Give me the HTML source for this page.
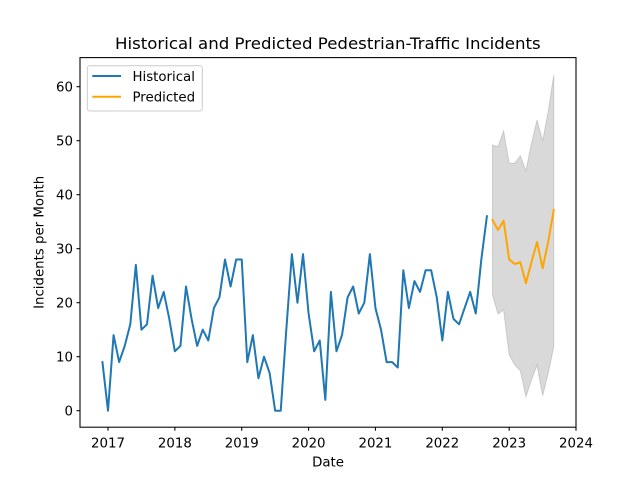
<!DOCTYPE html>
<html>
<head>
<meta charset="utf-8">
<style>
html,body{margin:0;padding:0;background:#fff;}
svg{display:block;}
text{font-family:"DejaVu Sans","Liberation Sans",sans-serif;fill:#000;}
</style>
</head>
<body>
<svg width="640" height="480" viewBox="0 0 640 480" xmlns="http://www.w3.org/2000/svg">
<rect x="0" y="0" width="640" height="480" fill="#fff"/>

<!-- confidence band -->
<polygon points="492.47,145 498.04,146.7 503.61,131 509.18,163.3 514.76,163.3 520.33,155.7 525.90,171 531.47,143.3 537.04,120 542.62,141 548.19,111.7 553.76,75 553.76,346.7 548.19,373.3 542.62,395.7 537.04,365 531.47,380 525.90,396.7 520.33,370.7 514.76,365 509.18,355 503.61,310 498.04,314 492.47,295"
 fill="#d9d9d9" stroke="rgba(128,128,128,0.3)" stroke-width="1"/>

<!-- historical -->
<polyline fill="none" stroke="#1f77b4" stroke-width="2" stroke-linejoin="round" stroke-linecap="square"
points="102.43,362.1 108.00,410.7 113.57,335.1 119.14,362.1 124.72,345.9 130.29,324.3 135.86,264.9 141.43,329.7 147.00,324.3 152.58,275.7 158.15,308.1 163.72,291.9 169.29,318.9 174.86,351.3 180.44,345.9 186.01,286.5 191.58,318.9 197.15,345.9 202.72,329.7 208.30,340.5 213.87,308.1 219.44,297.3 225.01,259.5 230.58,286.5 236.16,259.5 241.73,259.5 247.30,362.1 252.87,335.1 258.44,378.3 264.02,356.7 269.59,372.9 275.16,410.7 280.73,410.7 286.30,329.7 291.88,254.1 297.45,302.7 303.02,254.1 308.59,313.5 314.16,351.3 319.74,340.5 325.31,399.9 330.88,291.9 336.45,351.3 342.02,335.1 347.60,297.3 353.17,286.5 358.74,313.5 364.31,302.7 369.88,254.1 375.46,308.1 381.03,329.7 386.60,362.1 392.17,362.1 397.74,367.5 403.32,270.3 408.89,308.1 414.46,281.1 420.03,291.9 425.60,270.3 431.18,270.3 436.75,297.3 442.32,340.5 447.89,291.9 453.46,318.9 459.04,324.3 464.61,308.1 470.18,291.9 475.75,313.5 481.32,259.5 486.90,216.3"/>

<!-- predicted -->
<polyline fill="none" stroke="#ffa500" stroke-width="2" stroke-linejoin="round" stroke-linecap="square"
points="492.47,220 498.04,230 503.61,220.7 509.18,259.3 514.76,264 520.33,262.3 525.90,283.3 531.47,262.3 537.04,242 542.62,268.3 548.19,241.7 553.76,210"/>

<!-- axes frame -->
<rect x="80" y="57.6" width="496" height="369.6" fill="none" stroke="#000" stroke-width="1.07"/>

<!-- y ticks -->
<g stroke="#000" stroke-width="1.07">
<line x1="76.5" y1="410.7" x2="80" y2="410.7"/>
<line x1="76.5" y1="356.7" x2="80" y2="356.7"/>
<line x1="76.5" y1="302.7" x2="80" y2="302.7"/>
<line x1="76.5" y1="248.7" x2="80" y2="248.7"/>
<line x1="76.5" y1="194.7" x2="80" y2="194.7"/>
<line x1="76.5" y1="140.7" x2="80" y2="140.7"/>
<line x1="76.5" y1="86.7" x2="80" y2="86.7"/>
</g>
<g font-size="13.33" text-anchor="end">
<text x="73" y="415.5">0</text>
<text x="73" y="361.5">10</text>
<text x="73" y="307.5">20</text>
<text x="73" y="253.5">30</text>
<text x="73" y="199.5">40</text>
<text x="73" y="145.5">50</text>
<text x="73" y="91.5">60</text>
</g>

<!-- x ticks -->
<g stroke="#000" stroke-width="1.07">
<line x1="108" y1="427.2" x2="108" y2="430.7"/>
<line x1="174.86" y1="427.2" x2="174.86" y2="430.7"/>
<line x1="241.72" y1="427.2" x2="241.72" y2="430.7"/>
<line x1="308.58" y1="427.2" x2="308.58" y2="430.7"/>
<line x1="375.44" y1="427.2" x2="375.44" y2="430.7"/>
<line x1="442.3" y1="427.2" x2="442.3" y2="430.7"/>
<line x1="509.16" y1="427.2" x2="509.16" y2="430.7"/>
<line x1="576" y1="427.2" x2="576" y2="430.7"/>
</g>
<g font-size="13.33" text-anchor="middle">
<text x="108" y="447.3">2017</text>
<text x="174.86" y="447.3">2018</text>
<text x="241.72" y="447.3">2019</text>
<text x="308.58" y="447.3">2020</text>
<text x="375.44" y="447.3">2021</text>
<text x="442.3" y="447.3">2022</text>
<text x="509.16" y="447.3">2023</text>
<text x="576" y="447.3">2024</text>
</g>

<!-- axis labels -->
<text x="328" y="466.7" font-size="13.33" text-anchor="middle">Date</text>
<text transform="translate(43.5,242.4) rotate(-90)" font-size="13.33" text-anchor="middle">Incidents per Month</text>

<!-- title -->
<text x="115" y="49" font-size="16" textLength="425.7" lengthAdjust="spacingAndGlyphs">Historical and Predicted Pedestrian-Traffic Incidents</text>

<!-- legend -->
<rect x="87.3" y="65.7" width="115" height="45.3" rx="2.5" fill="#fff" fill-opacity="0.8" stroke="#cccccc" stroke-width="1"/>
<line x1="92.3" y1="76" x2="121" y2="76" stroke="#1f77b4" stroke-width="2"/>
<line x1="92.3" y1="96.7" x2="121" y2="96.7" stroke="#ffa500" stroke-width="2"/>
<text x="132.5" y="80.8" font-size="13.33">Historical</text>
<text x="132.5" y="101.5" font-size="13.33">Predicted</text>
</svg>
</body>
</html>
